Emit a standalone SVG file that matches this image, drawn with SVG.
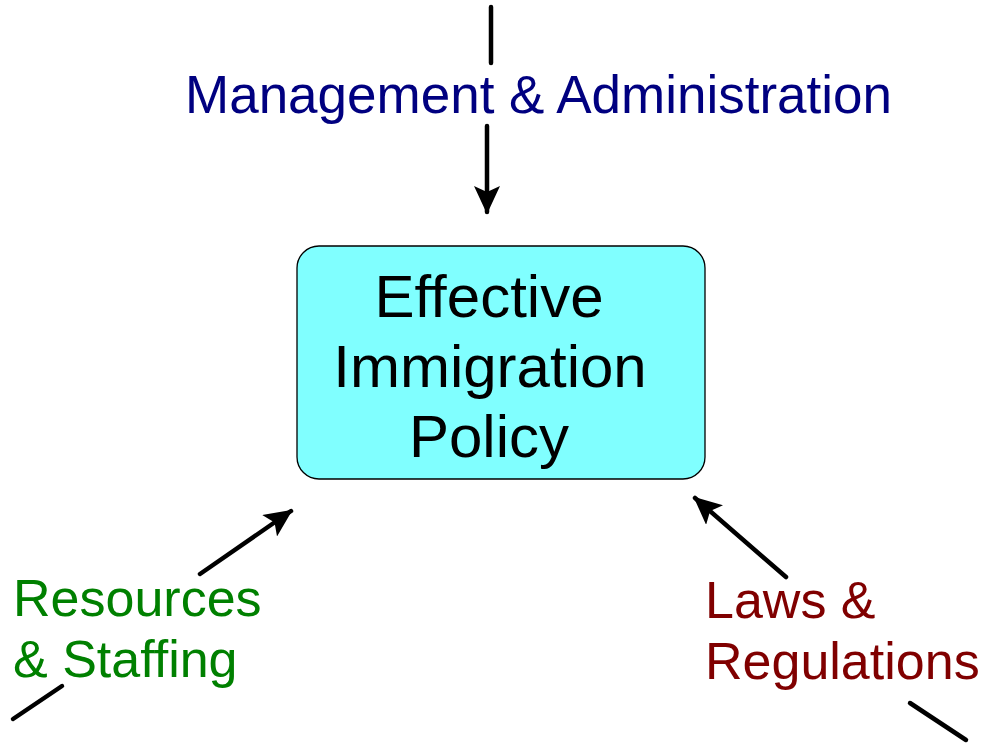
<svg xmlns="http://www.w3.org/2000/svg" width="983" height="748" viewBox="0 0 983 748">
<defs>
<style>
.c{stroke:#000;stroke-width:4.5;stroke-linecap:round;fill:none}
.t{font-family:"Liberation Sans",Arial,sans-serif;font-size:52px}
.bt{font-family:"Liberation Sans",Arial,sans-serif;font-size:60px;fill:#000;text-anchor:middle}
</style>
<marker id="ah" viewBox="0 0 28 26" refX="26" refY="13" markerUnits="userSpaceOnUse" markerWidth="28" markerHeight="26" orient="auto">
<path d="M0,0 L28,13 L0,26 L6,13 Z" fill="#000"/>
</marker>
</defs>
<rect width="983" height="748" fill="#fff"/>
<g id="connectors">
<line class="c" x1="491" y1="7" x2="491" y2="63"/>
<line class="c" x1="487" y1="126" x2="487" y2="212" marker-end="url(#ah)"/>
<line class="c" x1="200" y1="574" x2="291" y2="511" marker-end="url(#ah)"/>
<line class="c" x1="13" y1="719" x2="62" y2="686"/>
<line class="c" x1="786" y1="577" x2="695" y2="498" marker-end="url(#ah)"/>
<line class="c" x1="910" y1="703" x2="966" y2="740"/>
</g>
<g id="policy">
<rect x="297" y="246" width="408" height="233" rx="22" ry="22" fill="#80FFFF" stroke="#000" stroke-width="1.3"/>
<text class="bt" x="489" y="317">Effective</text>
<text class="bt" x="490" y="387">Immigration</text>
<text class="bt" x="489" y="457">Policy</text>
</g>
<g id="management">
<text class="t" x="185" y="113" fill="#000080" style="font-size:53px">Management &amp; Administration</text>
</g>
<g id="resources">
<text class="t" x="13" y="616" fill="#008000">Resources</text>
<text class="t" x="13" y="677" fill="#008000">&amp; Staffing</text>
</g>
<g id="laws">
<text class="t" x="705" y="618" fill="#800000">Laws &amp;</text>
<text class="t" x="705" y="679" fill="#800000">Regulations</text>
</g>
</svg>
